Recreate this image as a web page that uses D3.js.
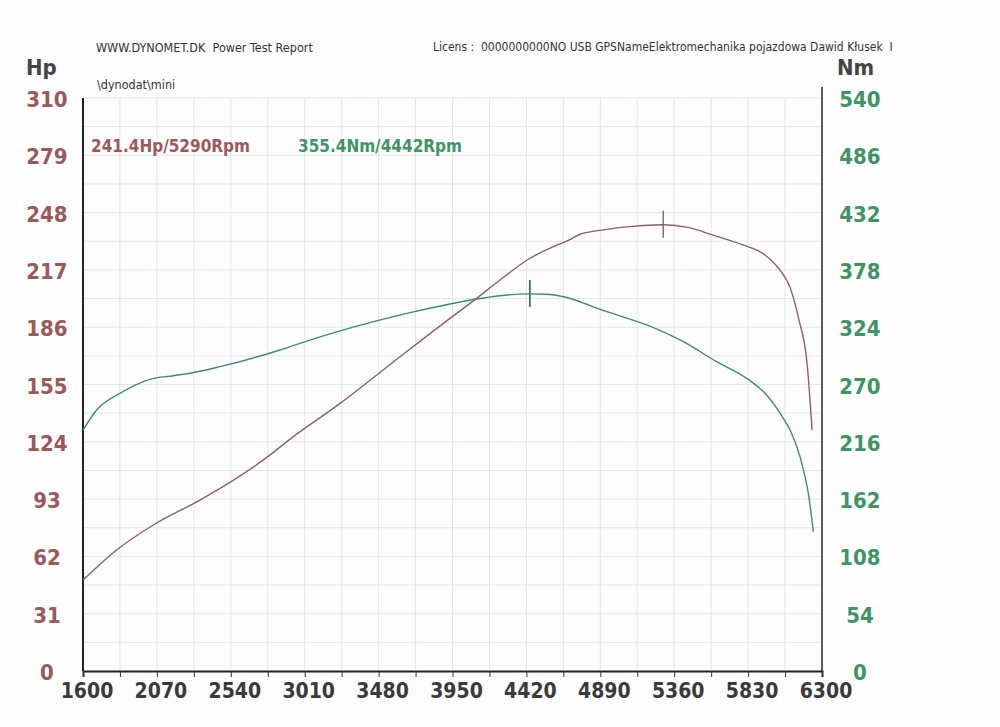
<!DOCTYPE html>
<html>
<head>
<meta charset="utf-8">
<script src="https://cdn.jsdelivr.net/npm/d3@7"></script>
<style>
  body { margin: 0; background: #fdfdfd; }
  svg { display: block; }
  text { font-family: "DejaVu Sans Condensed", "DejaVu Sans", sans-serif; }
</style>
</head>
<body>
<svg></svg>
<script>
const width = 1000;
const height = 727;

// tick labels
const rpmTicks = [1600, 2070, 2540, 3010, 3480, 3950, 4420, 4890, 5360, 5830, 6300];
const hpTicks = [0, 31, 62, 93, 124, 155, 186, 217, 248, 279, 310];
const nmTicks = [0, 54, 108, 162, 216, 270, 324, 378, 432, 486, 540];

// power curve
const hpRpm = [1600, 1814, 2047, 2344, 2535, 2747, 2938, 3235, 3616, 3934, 4093, 4252, 4443, 4571, 4692, 4761, 4888, 5079, 5290, 5448, 5607, 5798, 5938, 6023, 6099, 6151, 6205, 6237];
const hpValues = [49.2, 65.5, 79.0, 92.5, 102.0, 114.2, 126.8, 144.8, 170.0, 190.8, 200.9, 211.5, 223.3, 228.8, 233.2, 236.3, 238.4, 240.4, 241.4, 240.0, 235.8, 230.5, 225.1, 217.9, 207.0, 190.8, 166.5, 130.4];

// torque curve
const nmRpm = [1600, 1687, 1835, 2026, 2174, 2281, 2471, 2853, 2980, 3235, 3680, 3934, 4093, 4252, 4442, 4549, 4634, 4931, 5185, 5418, 5630, 5821, 5948, 6054, 6097, 6160, 6213, 6245];
const nmValues = [227.1, 246.0, 261.7, 274.9, 278.3, 280.6, 286.8, 302.5, 308.8, 320.5, 337.7, 345.9, 350.3, 353.7, 355.4, 355.0, 353.4, 338.6, 326.1, 310.3, 291.5, 275.8, 260.1, 238.1, 227.1, 202.0, 167.5, 131.3];

const peakHp = { rpm: 5290, value: 241.4 };
const peakNm = { rpm: 4442, value: 355.4 };

const hpColor = "#8d5f68";
const nmColor = "#3d8d68";
const hpLabelColor = "#9a5a5c";
const nmLabelColor = "#3f9465";

const margin = { left: 83, right: 822, top: 98, bottom: 671 };

const svg = d3.select("svg")
  .attr("width", width)
  .attr("height", height);

const x = d3.scaleLinear().domain([1600, 6300]).range([margin.left, margin.right]);
const yHp = d3.scaleLinear().domain([0, 310]).range([margin.bottom, margin.top]);
const yNm = d3.scaleLinear().domain([0, 540]).range([margin.bottom, margin.top]);

// grid
const grid = svg.append("g").attr("stroke", "#dde7ee").attr("stroke-width", 1);
grid.selectAll("line.v")
  .data(d3.range(1600 + 235, 6300, 235))
  .join("line")
  .attr("x1", d => x(d)).attr("x2", d => x(d))
  .attr("y1", margin.top).attr("y2", margin.bottom);
grid.selectAll("line.h")
  .data(d3.range(15.5, 310.1, 15.5))
  .join("line")
  .attr("x1", margin.left).attr("x2", margin.right)
  .attr("y1", d => yHp(d)).attr("y2", d => yHp(d));

// axes frame
svg.append("line")
  .attr("x1", margin.left).attr("x2", margin.left)
  .attr("y1", margin.top).attr("y2", margin.bottom)
  .attr("stroke", "#222").attr("stroke-width", 2);
svg.append("line")
  .attr("x1", margin.right).attr("x2", margin.right)
  .attr("y1", 87).attr("y2", margin.bottom)
  .attr("stroke", "#222").attr("stroke-width", 1.5);

const xAxis = svg.append("g")
  .attr("transform", `translate(0,${margin.bottom})`)
  .call(d3.axisBottom(x)
    .tickValues(d3.range(1600, 6301, 235))
    .tickSize(6)
    .tickFormat(""));
xAxis.select(".domain").attr("stroke", "#222").attr("stroke-width", 2);
xAxis.selectAll(".tick line").attr("stroke", "#333");

svg.append("g")
  .selectAll("text")
  .data(rpmTicks)
  .join("text")
  .attr("x", d => x(d) + 4)
  .attr("y", 698)
  .attr("text-anchor", "middle")
  .attr("font-size", 21)
  .attr("font-weight", "bold")
  .attr("fill", "#3a3a3a")
  .text(d => d);

svg.append("g")
  .selectAll("text")
  .data(hpTicks)
  .join("text")
  .attr("x", 47)
  .attr("y", d => yHp(d) + 9)
  .attr("text-anchor", "middle")
  .attr("font-size", 22)
  .attr("font-weight", "bold")
  .attr("fill", hpLabelColor)
  .text(d => d);

svg.append("g")
  .selectAll("text")
  .data(nmTicks)
  .join("text")
  .attr("x", 860)
  .attr("y", d => yNm(d) + 9)
  .attr("text-anchor", "middle")
  .attr("font-size", 22)
  .attr("font-weight", "bold")
  .attr("fill", nmLabelColor)
  .text(d => d);

// unit labels
svg.append("text").attr("x", 26).attr("y", 75)
  .attr("font-size", 22).attr("font-weight", "bold").attr("fill", "#444").text("Hp");
svg.append("text").attr("x", 837).attr("y", 75)
  .attr("font-size", 22).attr("font-weight", "bold").attr("fill", "#444").text("Nm");

// header
svg.append("text").attr("x", 96).attr("y", 52)
  .attr("font-size", 12.5).attr("fill", "#333").attr("xml:space", "preserve")
  .text("WWW.DYNOMET.DK  Power Test Report");
svg.append("text").attr("x", 433).attr("y", 51)
  .attr("font-size", 12).attr("fill", "#333").attr("xml:space", "preserve")
  .text("Licens :  0000000000NO USB GPSNameElektromechanika pojazdowa Dawid Kłusek  I");
svg.append("text").attr("x", 97).attr("y", 89)
  .attr("font-size", 12.5).attr("fill", "#333")
  .text("\\dynodat\\mini");

// peak annotations
svg.append("text").attr("x", 91).attr("y", 152)
  .attr("font-size", 17).attr("font-weight", "bold").attr("fill", hpLabelColor)
  .text(`${peakHp.value}Hp/${peakHp.rpm}Rpm`);
svg.append("text").attr("x", 298).attr("y", 152)
  .attr("font-size", 17).attr("font-weight", "bold").attr("fill", nmLabelColor)
  .text(`${peakNm.value}Nm/${peakNm.rpm}Rpm`);

// curves
const hpData = hpRpm.map((r, i) => ({ rpm: r, v: hpValues[i] }));
const nmData = nmRpm.map((r, i) => ({ rpm: r, v: nmValues[i] }));

const hpLine = d3.line().x(d => x(d.rpm)).y(d => yHp(d.v)).curve(d3.curveMonotoneX);
const nmLine = d3.line().x(d => x(d.rpm)).y(d => yNm(d.v)).curve(d3.curveMonotoneX);

svg.append("path").datum(nmData)
  .attr("d", nmLine)
  .attr("fill", "none").attr("stroke", nmColor).attr("stroke-width", 1.4);
svg.append("path").datum(hpData)
  .attr("d", hpLine)
  .attr("fill", "none").attr("stroke", hpColor).attr("stroke-width", 1.4);

// peak markers
svg.append("line")
  .attr("x1", x(peakHp.rpm)).attr("x2", x(peakHp.rpm))
  .attr("y1", yHp(peakHp.value) - 14).attr("y2", yHp(peakHp.value) + 13)
  .attr("stroke", "#6b5a5e").attr("stroke-width", 1.3);
svg.append("line")
  .attr("x1", x(peakNm.rpm)).attr("x2", x(peakNm.rpm))
  .attr("y1", yNm(peakNm.value) - 14).attr("y2", yNm(peakNm.value) + 13)
  .attr("stroke", "#2f7d58").attr("stroke-width", 1.8);
</script>
</body>
</html>
